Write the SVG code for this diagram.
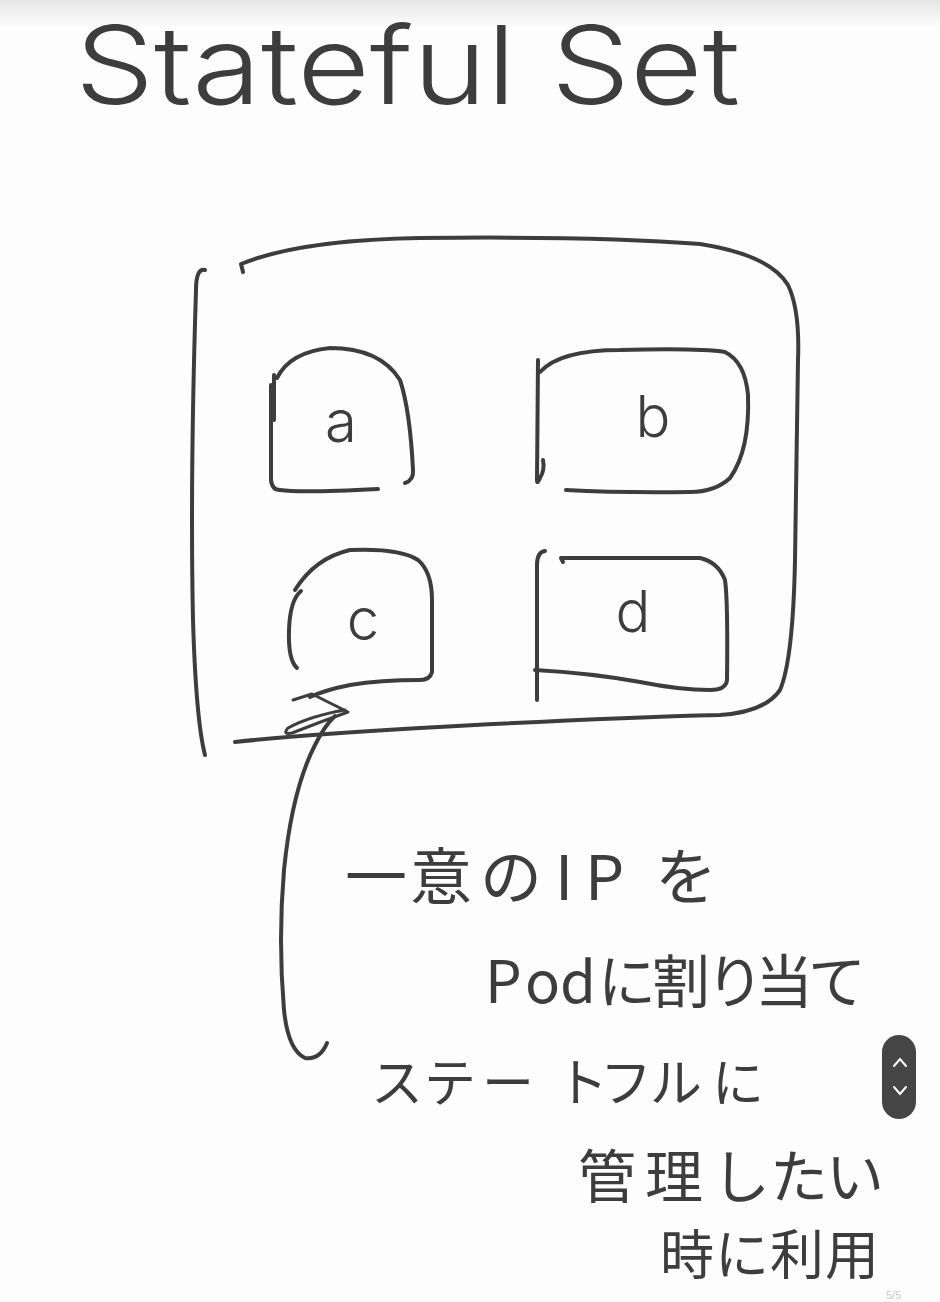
<svg xmlns="http://www.w3.org/2000/svg" width="940" height="1302" viewBox="0 0 940 1302">
<defs>
<linearGradient id="topShade" x1="0" y1="0" x2="0" y2="1">
<stop offset="0" stop-color="#e6e6e6"/>
<stop offset="1" stop-color="#ffffff"/>
</linearGradient>
<style>
.ink{fill:none;stroke:#3d3d3d;stroke-width:4;stroke-linecap:round;stroke-linejoin:round}
.thin{fill:none;stroke:#3d3d3d;stroke-width:3;stroke-linecap:round;stroke-linejoin:round}
.hand{font-family:Inter,Lato,"Liberation Sans",sans-serif;font-weight:300;fill:#3d3d3d}
.jp{font-family:"Noto Sans CJK JP","Liberation Sans",sans-serif;fill:#3d3d3d;font-weight:400}
.lbl{font-family:Inter,Lato,"Liberation Sans",sans-serif;font-weight:300;fill:#3d3d3d;font-size:58px;text-anchor:middle}
</style>
</defs>
<rect x="0" y="0" width="940" height="1302" fill="#fdfdfd"/>
<rect x="0" y="0" width="940" height="30" fill="url(#topShade)"/>

<g id="title">
<text class="hand" x="75" y="104" font-size="108" textLength="665" lengthAdjust="spacingAndGlyphs">Stateful Set</text>
</g>

<g id="statefulset">
<path class="ink" d="M205,270 Q196,268 196,290 Q190,480 193,620 Q196,720 205,755"/>
<path class="ink" d="M243,272 L241,264 Q300,240 420,238 Q600,236 700,244 Q770,255 788,285 Q800,310 798,360 L795,560 Q793,660 780,690 Q765,712 720,715 Q600,718 420,728 Q300,735 235,742"/>
</g>

<g id="pod-a">
<path class="ink" d="M274,375 L274,420"/>
<path class="ink" d="M271,385 L271,480 Q272,490 280,490 Q300,493 378,489"/>
<path class="ink" d="M277,378 Q290,352 330,348 Q380,348 400,380 Q410,410 413,470 Q414,480 405,483"/>
<text class="lbl" x="341" y="442">a</text>
</g>

<g id="pod-b">
<path class="ink" d="M538,360 L537,480 Q537,485 540,478 Q545,470 543,460"/>
<path class="ink" d="M540,372 Q560,350 620,350 Q700,348 725,352 Q745,362 748,395 Q750,450 730,478 Q715,492 690,492 Q620,493 566,490"/>
<text class="lbl" x="653" y="437" font-size="60">b</text>
</g>

<g id="pod-c">
<path class="ink" d="M301,591 Q290,600 289,630 Q288,660 297,668"/>
<path class="ink" d="M295,590 Q315,558 350,550 Q400,548 418,560 Q432,572 432,600 L432,672 Q430,680 420,680 Q380,680 350,685 Q325,690 310,697"/>
<text class="lbl" x="363" y="640">c</text>
</g>

<g id="pod-d">
<path class="ink" d="M545,551 Q537,552 537,565 L537,700"/>
<path class="ink" d="M563,562 L561,558 L700,558 Q718,562 725,580 Q728,600 727,680 Q726,690 710,690 Q680,690 640,682 Q590,673 535,670"/>
<text class="lbl" x="633" y="632">d</text>
</g>

<g id="note">
<text class="jp" x="345 410 480 555 585 655" y="900" font-size="62">一意のIPを</text>
<text class="jp" x="485 525 560 598 652 706 755 808" y="1003" font-size="58">Podに割り当て</text>
<text class="jp" x="371 424 482 556 600 650 712" y="1102" font-size="52">ステートフルに</text>
<text class="jp" x="578 645 712 770 826" y="1198" font-size="58">管理したい</text>
<text class="jp" x="660 715 770 825" y="1275" font-size="54">時に利用</text>
</g>

<g id="connectors">
<path class="ink" d="M327,1043 Q320,1060 305,1058 Q288,1050 284,1010 Q278,940 284,870 Q292,790 315,745 Q325,725 335,716"/>
<path class="thin" d="M293,700 L312,694 L348,712 Q320,722 292,733 Q282,735 288,728 Q310,716 345,710"/>
</g>

<g id="scroll-widget">
<rect x="882" y="1035" width="34" height="84" rx="17" fill="#454545"/>
<path d="M894,1066 L900,1059 L906,1066" fill="none" stroke="#ffffff" stroke-width="2" stroke-linecap="round"/>
<path d="M894,1087 L900,1094 L906,1087" fill="none" stroke="#ffffff" stroke-width="2" stroke-linecap="round"/>
</g>
<text x="886" y="1299" font-family="Liberation Sans, sans-serif" font-size="11" fill="#cccccc">5/5</text>
</svg>
